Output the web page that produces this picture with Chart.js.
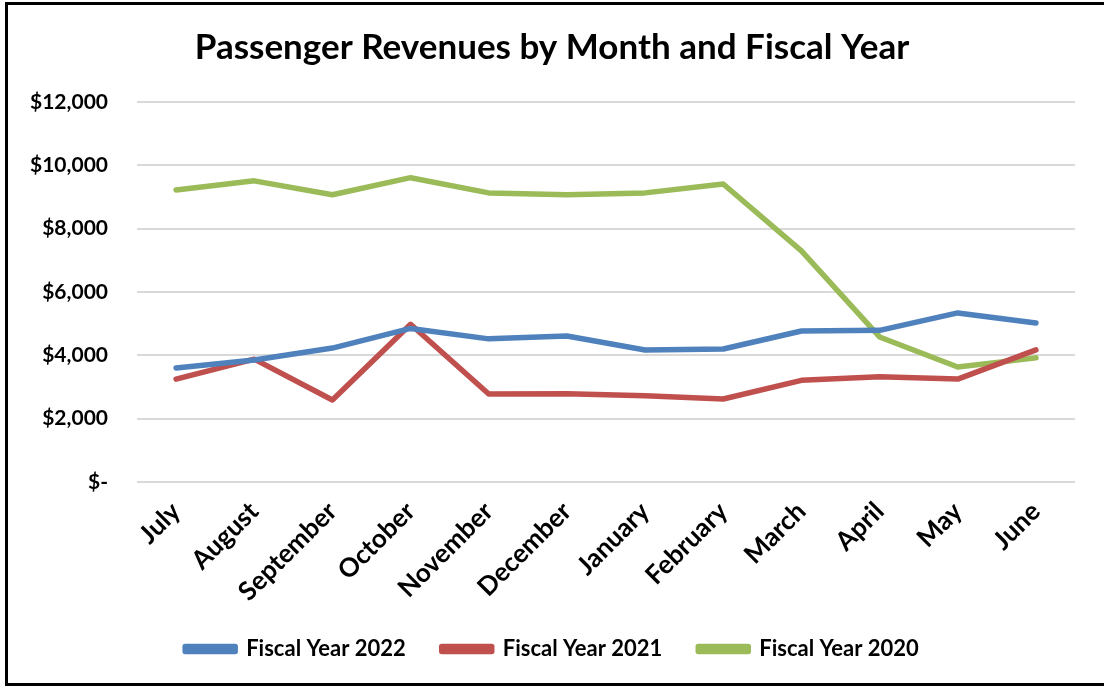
<!DOCTYPE html>
<html>
<head>
<meta charset="utf-8">
<script src="https://cdn.jsdelivr.net/npm/chart.js@4.4.0/dist/chart.umd.min.js"></script>
<style>
  html, body { margin: 0; padding: 0; background: #fff; }
  #wrap { position: relative; width: 1104px; height: 686px; }
  #frame {
    position: absolute; left: 5px; top: 2px; width: 1096px; height: 678px;
    border-left: 3px solid #000; border-top: 3px solid #000; border-bottom: 3px solid #000;
    border-right: 1px solid #d9d9d9; pointer-events: none;
  }
  canvas { position: absolute; left: 0; top: 0; }
</style>
</head>
<body>
<div id="wrap">
  <canvas id="revChart" width="1104" height="686"></canvas>
  <div id="frame"></div>
</div>
<script>
// 資料
const months = ['July', 'August', 'September', 'October', 'November', 'December',
                'January', 'February', 'March', 'April', 'May', 'June'];
const fy2022 = [3600, 3850, 4230, 4850, 4520, 4610, 4170, 4200, 4770, 4790, 5340, 5020];
const fy2021 = [3250, 3880, 2590, 4980, 2780, 2790, 2720, 2620, 3210, 3320, 3250, 4170];
const fy2020 = [9220, 9510, 9070, 9610, 9130, 9070, 9130, 9410, 7300, 4580, 3630, 3920];
const seriesNames = ['Fiscal Year 2022', 'Fiscal Year 2021', 'Fiscal Year 2020'];
const yTicks = [0, 2000, 4000, 6000, 8000, 10000, 12000];

const FONT = "Lato, 'Open Sans', sans-serif";
const colors = ['#4f81bd', '#c0504d', '#9bbb59'];

function makeSet(name, data, color) {
    return {
        label: name,
        data: data,
        borderColor: color,
        backgroundColor: color,
        borderWidth: 5.5,
        pointRadius: 0,
        tension: 0,
        borderCapStyle: 'round',
        borderJoinStyle: 'round'
    };
}

const ctx = document.getElementById('revChart').getContext('2d');
new Chart(ctx, {
    type: 'line',
    data: {
        labels: months,
        datasets: [
            makeSet(seriesNames[0], fy2022, colors[0]),
            makeSet(seriesNames[1], fy2021, colors[1]),
            makeSet(seriesNames[2], fy2020, colors[2])
        ]
    },
    options: {
        responsive: false,
        animation: false,
        layout: { padding: { left: 29, right: 29, top: 14, bottom: 16 } },
        scales: {
            x: {
                offset: true,
                grid: { display: false },
                border: { display: false },
                ticks: {
                    color: '#000',
                    font: { family: FONT, size: 26, weight: 'bold' },
                    maxRotation: 45, minRotation: 45,
                    padding: 6
                },
                afterFit: (axis) => { axis.height = 120; }
            },
            y: {
                min: 0, max: 12000,
                afterBuildTicks: (axis) => { axis.ticks = yTicks.map(v => ({ value: v })); },
                grid: { color: '#d9d9d9', lineWidth: 2, drawTicks: false },
                border: { display: false },
                ticks: {
                    color: '#000',
                    padding: 29,
                    font: { family: FONT, size: 21, weight: 'bold' },
                    callback: (v) => v === 0 ? '$-' : '$' + v.toLocaleString('en-US')
                },
                afterFit: (axis) => { axis.width = 108; }
            }
        },
        plugins: {
            title: {
                display: true,
                text: 'Passenger Revenues by Month and Fiscal Year',
                color: '#000',
                font: { family: FONT, size: 35, weight: 'bold' },
                padding: { top: 13, bottom: 33 }
            },
            legend: {
                position: 'bottom',
                labels: {
                    color: '#000',
                    font: { family: FONT, size: 22, weight: 'bold' },
                    boxWidth: 50,
                    boxHeight: 5,
                    padding: 36
                }
            },
            tooltip: { enabled: false }
        }
    }
});
</script>
</body>
</html>
